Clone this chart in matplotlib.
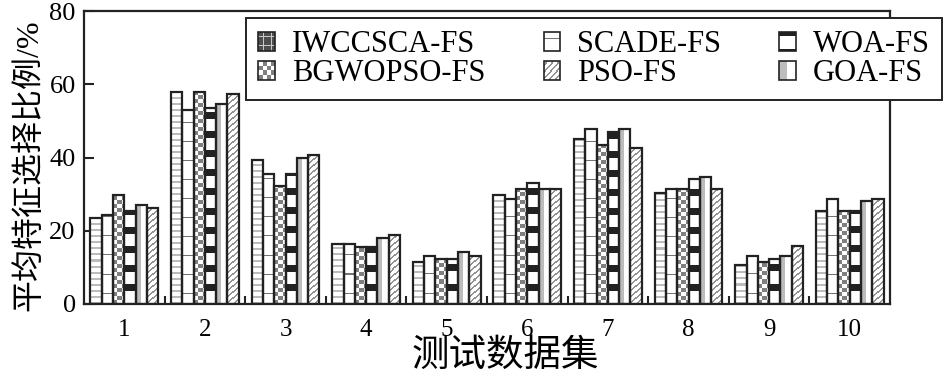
import numpy as np
import matplotlib
matplotlib.use('Agg')
import matplotlib.pyplot as plt
from matplotlib.patches import Rectangle
from matplotlib.legend_handler import HandlerBase

# average feature selection ratio (%) per dataset
datasets = ['1', '2', '3', '4', '5', '6', '7', '8', '9', '10']
iwccsca = [23.6, 58.0, 39.2, 16.4, 11.5, 29.7, 45.1, 30.4, 10.7, 25.4]
scade = [24.4, 52.9, 35.6, 16.4, 13.2, 28.8, 47.7, 31.3, 13.2, 28.8]
bgwopso = [29.7, 58.0, 32.1, 15.5, 12.3, 31.3, 43.4, 31.3, 11.5, 25.4]
woa = [25.3, 53.6, 35.6, 15.5, 12.3, 33.1, 46.9, 34.0, 12.4, 25.4]
goa = [26.9, 54.5, 39.9, 18.0, 14.1, 31.3, 47.7, 34.8, 13.2, 28.0]
pso = [26.1, 57.3, 40.7, 18.9, 13.2, 31.3, 42.5, 31.3, 15.8, 28.8]

series = [
    ('IWCCSCA-FS', iwccsca, 'stripe'),
    ('SCADE-FS', scade, 'line'),
    ('BGWOPSO-FS', bgwopso, 'checker'),
    ('WOA-FS', woa, 'block'),
    ('GOA-FS', goa, 'vband'),
    ('PSO-FS', pso, 'diag'),
]
legend_order = ['IWCCSCA-FS', 'BGWOPSO-FS', 'SCADE-FS', 'PSO-FS', 'WOA-FS', 'GOA-FS']

EDGE = '#222222'
SERIF = ['Liberation Serif', 'DejaVu Serif']
CJK = ['Liberation Serif', 'Noto Sans CJK SC']


def texture(kind, h, w):
    '''pixel texture used to fill a bar (white background)'''
    img = np.ones((h, w, 3))
    r = np.arange(h)[::-1][:, None] + np.zeros((1, w), dtype=int)
    c = np.arange(w)[None, :] + np.zeros((h, 1), dtype=int)
    if kind == 'stripe':
        img[(r % 6) < 2] = 0.74
    elif kind == 'line':
        img[(r % 19) == 10] = 0.45
    elif kind == 'checker':
        img[((r // 4 + c // 4) % 2) == 0] = 0.5
    elif kind == 'block':
        img[((r + 6) % 19) < 7] = 0.13
    elif kind == 'vband':
        img[c < max(1, int(round(0.42 * w)))] = 0.74
    elif kind == 'diag':
        img[((r - c) % 6) < 2] = 0.58
    elif kind == 'cross':
        img[:] = 0.3
        img[(r % 8) == 4] = 0.78
        img[(c % 8) == 4] = 0.78
    return img


class TexturePatch(Rectangle):
    def __init__(self, kind, label):
        super().__init__((0, 0), 1, 1, label=label)
        self.kind = kind


class TextureHandler(HandlerBase):
    def create_artists(self, legend, orig_handle, xdescent, ydescent,
                       width, height, fontsize, trans):
        kind = 'cross' if orig_handle.kind == 'stripe' else orig_handle.kind
        n = 16
        img = texture(kind, n, n)
        cw, ch = width / n, height / n
        arts = [Rectangle((-xdescent, -ydescent), width, height,
                          facecolor='white', edgecolor='none', transform=trans)]
        for i in range(n):
            for j in range(n):
                v = img[i, j, 0]
                if v < 0.99:
                    arts.append(Rectangle((-xdescent + j * cw, -ydescent + (n - 1 - i) * ch),
                                          cw, ch, facecolor=(v, v, v), edgecolor='none',
                                          linewidth=0, transform=trans))
        arts.append(Rectangle((-xdescent, -ydescent), width, height,
                              facecolor='none', edgecolor=EDGE, linewidth=1.2,
                              transform=trans))
        return arts


fig = plt.figure(figsize=(9.46, 3.75), dpi=100)
ax = fig.add_axes([84 / 946, 71 / 375, 806 / 946, 293 / 375])
ax.set_xlim(0.5, 10.5)
ax.set_ylim(0, 80)

x = np.arange(1, len(datasets) + 1)
n = len(series)
bw = 0.14
handles = {}
for k, (name, vals, kind) in enumerate(series):
    pos = x + (k - (n - 1) / 2) * bw
    bars = ax.bar(pos, vals, bw, facecolor='none', edgecolor=EDGE,
                  linewidth=1.6, zorder=3)
    for rect in bars:
        x0, w, h = rect.get_x(), rect.get_width(), rect.get_height()
        p0 = ax.transData.transform((x0, 0))
        p1 = ax.transData.transform((x0 + w, h))
        wpx = max(1, int(round(p1[0] - p0[0])))
        hpx = max(1, int(round(p1[1] - p0[1])))
        ax.imshow(texture(kind, hpx, wpx), extent=(x0, x0 + w, 0, h),
                  aspect='auto', interpolation='nearest', zorder=2)
    handles[name] = TexturePatch(kind, name)

ax.set_xlim(0.5, 10.5)
ax.set_ylim(0, 80)

ax.set_xticks(x)
ax.set_xticklabels(datasets, fontsize=18, family=SERIF)
ax.set_xticks(np.arange(1.5, 10.5, 1), minor=True)
ax.tick_params(axis='x', which='major', length=0, pad=11)
ax.tick_params(axis='x', which='minor', direction='in', length=6, width=1.5, color=EDGE)
ax.set_yticks([0, 20, 40, 60, 80])
ax.set_yticklabels(['0', '20', '40', '60', '80'], fontsize=19, family=SERIF)
ax.tick_params(axis='y', direction='in', length=7, width=1.5, color=EDGE, pad=6)
for s in ax.spines.values():
    s.set_linewidth(1.6)
    s.set_color(EDGE)

fig.text(29 / 946, 1 - 165 / 375, '平均特征选择比例/%', rotation=90,
         ha='center', va='center', fontsize=23, family=CJK)
fig.text(505 / 946, 1 - 357 / 375, '测试数据集', ha='center', va='center',
         fontsize=27, family=CJK)

leg = fig.legend([handles[k] for k in legend_order], legend_order,
                 handler_map={TexturePatch: TextureHandler()},
                 ncol=3, loc='upper right', bbox_to_anchor=(942 / 946, 1 - 18 / 375),
                 borderaxespad=0, prop={'family': SERIF, 'size': 22},
                 handlelength=0.55, handleheight=0.55, handletextpad=0.55,
                 columnspacing=1.9, labelspacing=0.0, borderpad=0.4,
                 fancybox=False, framealpha=1, edgecolor=EDGE)
leg.get_frame().set_linewidth(1.4)

fig.savefig('out.png', dpi=100)
